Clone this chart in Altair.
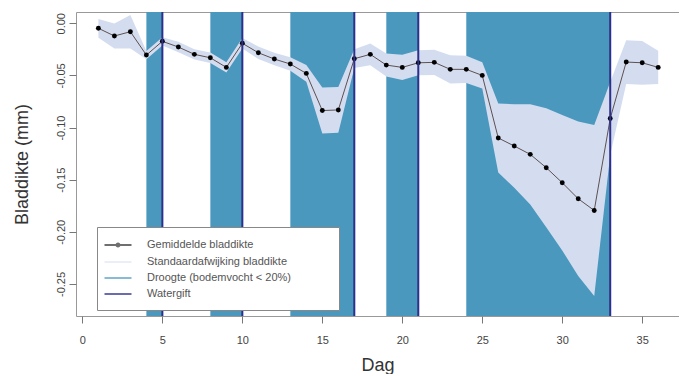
import altair as alt
import pandas as pd

# ---- data ----
days = list(range(1, 37))
mean_thickness = [-0.0048, -0.0122, -0.0081, -0.0305, -0.0173, -0.0228, -0.0298, -0.0331,
                  -0.0423, -0.0192, -0.0283, -0.0343, -0.0391, -0.0481, -0.0837, -0.0831,
                  -0.0340, -0.0298, -0.0401, -0.0423, -0.0379, -0.0375, -0.0442, -0.0442,
                  -0.0500, -0.1100, -0.1177, -0.1257, -0.1385, -0.1529, -0.1683, -0.1795,
                  -0.0913, -0.0372, -0.0379, -0.0423]
sd_thickness = [0.009, 0.012, 0.016, 0.004, 0.004, 0.005, 0.005, 0.005,
                0.005, 0.005, 0.006, 0.006, 0.0065, 0.008, 0.022, 0.022,
                0.009, 0.0105, 0.011, 0.012, 0.012, 0.012, 0.0135, 0.013,
                0.0125, 0.033, 0.040, 0.048, 0.057, 0.065, 0.074, 0.082,
                0.035, 0.021, 0.021, 0.016]
drought_start = [4, 8, 13, 19, 24]
drought_end = [5, 10, 17, 21, 33]
water_days = [5, 10, 17, 21, 33]

x_ticks = [0, 5, 10, 15, 20, 25, 30, 35]
y_ticks = [0.0, -0.05, -0.10, -0.15, -0.20, -0.25]

legend_names = ["Gemiddelde bladdikte", "Standaardafwijking bladdikte",
                "Droogte (bodemvocht < 20%)", "Watergift"]

# ---- styles ----
FONT = "Liberation Sans"
BLUE = "#4a98bd"
LAV = "#d4ddf0"
NAVY = "#2c2f8c"
W, H = 603, 304

legend_colors = ["#333333", "#e2e8f6", "#5a9fc4", NAVY]
LINE = "M-2.25,0H2.25"
LINEDOT = "M-2.25,0H2.25M-0.25,0A0.25,0.25 0 1,0 0.25,0A0.25,0.25 0 1,0 -0.25,0"
legend_shapes = [LINEDOT, LINE, LINE, LINE]

df = pd.DataFrame({"day": days, "mean": mean_thickness, "sd": sd_thickness})
df["lo"] = df["mean"] - df["sd"]
df["hi"] = df["mean"] + df["sd"]
drought = pd.DataFrame({"start": drought_start, "end": drought_end})
water = pd.DataFrame({"day": water_days})
leg = pd.DataFrame({"entry": legend_names})

xs = alt.Scale(domain=[-0.4, 37.3], nice=False, zero=False)
ys = alt.Scale(domain=[-0.2807, 0.0108], nice=False, zero=False)

xaxis = alt.Axis(values=x_ticks, title="Dag", grid=False, domain=False,
                 tickSize=7, tickColor="#777", labelFontSize=11, labelColor="#444",
                 labelFont=FONT, labelBaseline="alphabetic", labelPadding=20,
                 titleFont=FONT, titleFontSize=18, titleFontWeight="normal",
                 titleColor="#333", titleBaseline="alphabetic", titleY=54)
yaxis = alt.Axis(values=y_ticks, title="Bladdikte (mm)", grid=False, domain=False,
                 format=".2f", labelExpr="replace(datum.label, '\u2212', '-')",
                 tickSize=7, tickColor="#777", labelFontSize=11, labelColor="#444",
                 labelFont=FONT, labelAngle=270, labelAlign="center",
                 labelBaseline="alphabetic", labelPadding=5,
                 titleFont=FONT, titleFontSize=18, titleFontWeight="normal",
                 titleColor="#333", titleAngle=270, titleBaseline="alphabetic",
                 titleAlign="center", titleX=-49, titleY=H / 2)

bands = alt.Chart(drought).mark_rect(color=BLUE, opacity=1).encode(
    x=alt.X("start:Q", scale=xs, axis=xaxis),
    x2="end:Q",
    y=alt.value(0), y2=alt.value(H),
)

sd_area = alt.Chart(df).mark_area(color=LAV, opacity=1).encode(
    x=alt.X("day:Q", scale=xs, axis=xaxis),
    y=alt.Y("lo:Q", scale=ys, axis=yaxis),
    y2="hi:Q",
)

mean_line = alt.Chart(df).mark_line(color="#5e5050", strokeWidth=1).encode(
    x=alt.X("day:Q", scale=xs, axis=xaxis),
    y=alt.Y("mean:Q", scale=ys, axis=yaxis),
)

mean_pts = alt.Chart(df).mark_circle(color="black", size=24, opacity=1).encode(
    x=alt.X("day:Q", scale=xs, axis=xaxis),
    y=alt.Y("mean:Q", scale=ys, axis=yaxis),
)

rules = alt.Chart(water).mark_rule(color=NAVY, strokeWidth=2).encode(
    x=alt.X("day:Q", scale=xs, axis=xaxis),
)

# trailing no-break spaces (kept alive by a zero-width char) widen the legend box
PAD = "\u00a0" * 12 + "\u200b"
legend_props = dict(
    title=None, orient="none", legendX=21, legendY=215, padding=11,
    fillColor="white", strokeColor="#888", cornerRadius=0,
    symbolSize=144, symbolStrokeWidth=2, symbolOffset=3,
    labelOffset=22, rowPadding=4, labelFont=FONT, labelFontSize=11,
    labelColor="#555", labelLimit=400,
    labelExpr="datum.label + '" + PAD + "'",
)

legend_layer = alt.Chart(leg).mark_point(filled=False, strokeWidth=2).encode(
    color=alt.Color("entry:N", scale=alt.Scale(domain=legend_names, range=legend_colors),
                    legend=alt.Legend(**legend_props)),
    shape=alt.Shape("entry:N", scale=alt.Scale(domain=legend_names, range=legend_shapes),
                    legend=alt.Legend(**legend_props)),
).transform_filter("false")

chart = alt.layer(bands, sd_area, mean_line, mean_pts, rules, legend_layer).properties(
    width=W, height=H,
    autosize=alt.AutoSizeParams(type="none"),
    padding={"left": 68, "top": 4, "right": 0, "bottom": 58},
    background="white",
).configure_view(stroke="#999", strokeWidth=1)

chart.save("out.html", embed_options={"renderer": "svg", "actions": False})
